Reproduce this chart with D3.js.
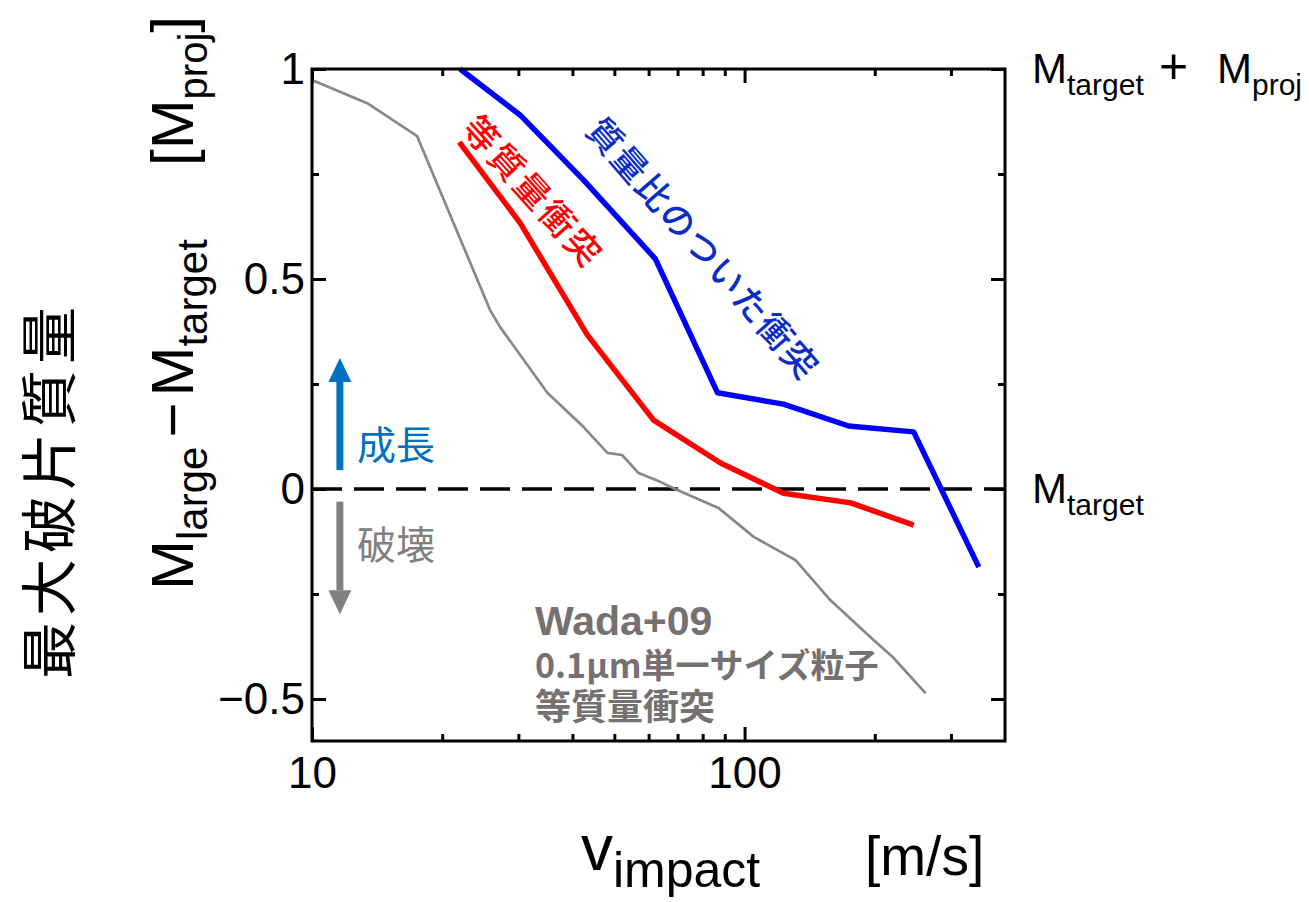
<!DOCTYPE html>
<html>
<head>
<meta charset="utf-8">
<script src="https://cdn.jsdelivr.net/npm/d3@7"></script>
<style>
  body { margin: 0; background: #fff; }
  text { font-family: "Liberation Sans", Arial, sans-serif; }
  .jp { font-family: "Noto Sans CJK JP", sans-serif; }
</style>
</head>
<body>
<div id="plot"></div>
<script>
let width = 1309;
let height = 902;

// plot frame
let plotLeft = 312, plotRight = 1005, plotTop = 69, plotBottom = 741;

// 質量比のついた衝突 (blue)
let ratioV = [22.0, 30.3, 42.4, 62.2, 86.6, 123, 174, 246, 348];
let ratioM = [1.0, 0.89, 0.736, 0.548, 0.229, 0.202, 0.150, 0.136, -0.186];

// 等質量衝突 (red)
let equalV = [21.9, 30.3, 43.3, 61.6, 88, 123, 176, 246];
let equalM = [0.826, 0.633, 0.367, 0.164, 0.062, -0.01, -0.033, -0.086];

// Wada+09 (gray)
let wadaV = [10, 13.5, 17.5, 25.8, 27.2, 35, 42.4, 48.2, 52.1, 56.9, 63.8, 68.5, 87, 105, 131, 158, 199, 220, 262];
let wadaM = [0.974, 0.917, 0.84, 0.426, 0.386, 0.229, 0.148, 0.086, 0.081, 0.038, 0.017, 0.002, -0.045, -0.114, -0.169, -0.265, -0.36, -0.40, -0.486];

let xMajor = [10, 100];
let xMinor = [20, 30, 40, 50, 60, 70, 80, 90, 200, 300];
let yMajor = [-0.5, 0, 0.5, 1];
let yMinor = [-0.25, 0.25, 0.75];
let yTickLabels = {"-0.5": "\u22120.5", "0": "0", "0.5": "0.5", "1": "1"};

let svg = d3.select("#plot")
    .append("svg")
    .attr("width", width)
    .attr("height", height);

let xScale = d3.scaleLog()
    .domain([10, 400])
    .range([plotLeft, plotRight]);

let yScale = d3.scaleLinear()
    .domain([-0.6, 1])
    .range([plotBottom, plotTop]);

// ticks, all pointing inside
function addAxis(axis, transform, showLabels) {
    let g = svg.append("g")
        .attr("transform", transform)
        .call(axis);
    g.select(".domain").remove();
    g.selectAll(".tick line").attr("stroke", "#000").attr("stroke-width", 3);
    if (!showLabels) g.selectAll(".tick text").remove();
    return g;
}

let xb = addAxis(d3.axisBottom(xScale).tickValues(xMajor).tickSize(-14).tickPadding(16).tickFormat(d3.format("d")),
    "translate(0," + plotBottom + ")", true);
xb.selectAll(".tick text").attr("font-size", 44).attr("fill", "#000").attr("font-family", "Liberation Sans");
addAxis(d3.axisBottom(xScale).tickValues(xMinor).tickSize(-7), "translate(0," + plotBottom + ")", false);
addAxis(d3.axisTop(xScale).tickValues(xMajor).tickSize(-14), "translate(0," + plotTop + ")", false);
addAxis(d3.axisTop(xScale).tickValues(xMinor).tickSize(-7), "translate(0," + plotTop + ")", false);

let yl = addAxis(d3.axisLeft(yScale).tickValues(yMajor).tickSize(-14).tickPadding(7)
    .tickFormat(d => yTickLabels[String(d)]), "translate(" + plotLeft + ",0)", true);
yl.selectAll(".tick text").attr("font-size", 44).attr("fill", "#000").attr("font-family", "Liberation Sans");
addAxis(d3.axisLeft(yScale).tickValues(yMinor).tickSize(-7), "translate(" + plotLeft + ",0)", false);
addAxis(d3.axisRight(yScale).tickValues(yMajor).tickSize(-14), "translate(" + plotRight + ",0)", false);
addAxis(d3.axisRight(yScale).tickValues(yMinor).tickSize(-7), "translate(" + plotRight + ",0)", false);

// zero line
svg.append("line")
    .attr("x1", plotLeft).attr("x2", plotRight)
    .attr("y1", yScale(0)).attr("y2", yScale(0))
    .attr("stroke", "#000")
    .attr("stroke-width", 3.5)
    .attr("stroke-dasharray", "30,12");

let line = d3.line()
    .x(d => xScale(d[0]))
    .y(d => yScale(d[1]));

function series(vs, ms, color, w) {
    svg.append("path")
        .datum(vs.map((v, i) => [v, ms[i]]))
        .attr("d", line)
        .attr("fill", "none")
        .attr("stroke", color)
        .attr("stroke-width", w)
        .attr("stroke-linejoin", "round");
}

series(wadaV, wadaM, "#888888", 2.7);
series(equalV, equalM, "#ff0000", 5.5);
series(ratioV, ratioM, "#0000ff", 5.5);

// frame
svg.append("rect")
    .attr("x", plotLeft).attr("y", plotTop)
    .attr("width", plotRight - plotLeft).attr("height", plotBottom - plotTop)
    .attr("fill", "none")
    .attr("stroke", "#000")
    .attr("stroke-width", 3);

// growth / destruction arrows
function arrow(v, m0, m1, color) {
    let x = xScale(v), y0 = yScale(m0), y1 = yScale(m1);
    let dir = y1 < y0 ? 1 : -1;
    let headLen = 24, headW = 11.5;
    svg.append("line")
        .attr("x1", x).attr("x2", x)
        .attr("y1", y0).attr("y2", y1 + dir * headLen)
        .attr("stroke", color).attr("stroke-width", 7);
    svg.append("path")
        .attr("d", "M" + x + "," + y1 + "L" + (x - headW) + "," + (y1 + dir * headLen) +
            "L" + (x + headW) + "," + (y1 + dir * headLen) + "Z")
        .attr("fill", color);
}
arrow(11.6, 0.045, 0.312, "#0070c0");
arrow(11.6, -0.03, -0.298, "#808080");

svg.append("text").attr("class", "jp")
    .attr("x", 357).attr("y", 459)
    .attr("font-size", 39).attr("fill", "#0070c0")
    .text("成長");

svg.append("text").attr("class", "jp")
    .attr("x", 357).attr("y", 559)
    .attr("font-size", 39).attr("fill", "#808080")
    .text("破壊");

// rotated series labels
svg.append("text").attr("class", "jp")
    .attr("transform", "translate(" + xScale(81.1) + "," + yScale(0.576) + ") rotate(49)")
    .attr("text-anchor", "middle")
    .attr("dominant-baseline", "central")
    .attr("font-size", 35)
    .attr("font-weight", 500)
    .attr("letter-spacing", 2)
    .attr("fill", "#0a2dc8")
    .text("質量比のついた衝突");

svg.append("text").attr("class", "jp")
    .attr("transform", "translate(" + xScale(32.8) + "," + yScale(0.712) + ") rotate(48)")
    .attr("text-anchor", "middle")
    .attr("dominant-baseline", "central")
    .attr("font-size", 35)
    .attr("font-weight", 500)
    .attr("letter-spacing", 3)
    .attr("fill", "#ff0000")
    .text("等質量衝突");

// Wada+09 note, one text block with three lines
let note = svg.append("text")
    .attr("font-weight", "bold")
    .attr("fill", "#767171");
note.append("tspan")
    .attr("x", 535).attr("y", 635)
    .attr("font-size", 41)
    .text("Wada+09");
note.append("tspan").attr("class", "jp")
    .attr("x", 535).attr("y", 678)
    .attr("font-size", 34)
    .text("0.1μm単一サイズ粒子");
note.append("tspan").attr("class", "jp")
    .attr("x", 535).attr("y", 720)
    .attr("font-size", 36)
    .text("等質量衝突");

// right-hand labels
let rt = svg.append("text").attr("y", 83).attr("font-size", 42).attr("font-family", "Noto Sans");
rt.append("tspan").attr("x", 1032).text("M");
rt.append("tspan").attr("font-size", 30).attr("dy", 12).text("target");
rt.append("tspan").attr("x", 1159).attr("dy", -12).attr("font-size", 50).attr("font-weight", 300).text("+");
rt.append("tspan").attr("x", 1217).text("M");
rt.append("tspan").attr("font-size", 30).attr("dy", 12).text("proj");

let rb = svg.append("text").attr("x", 1032).attr("y", 503).attr("font-size", 42).attr("font-family", "Noto Sans");
rb.append("tspan").text("M");
rb.append("tspan").attr("font-size", 30).attr("dy", 12).text("target");

// x label
let xl = svg.append("text").attr("x", 581).attr("y", 870).attr("font-size", 64);
xl.append("tspan").text("v");
xl.append("tspan").attr("font-size", 50).attr("dy", 17).text("impact");
svg.append("text").attr("x", 865).attr("y", 875).attr("font-size", 55).text("[m/s]");

// y label
let yt = svg.append("text")
    .attr("transform", "translate(193,590) rotate(-90)")
    .attr("font-size", 60);
yt.append("tspan").text("M");
yt.append("tspan").attr("font-size", 42).attr("dy", 14).text("large");
yt.append("tspan").attr("dy", -14).attr("dx", 9).text("\u2212");
yt.append("tspan").attr("dx", 6).text("M");
yt.append("tspan").attr("font-size", 42).attr("dy", 14).text("target");

let yp = svg.append("text")
    .attr("transform", "translate(193,16) rotate(-90)")
    .attr("text-anchor", "end")
    .attr("font-size", 60);
yp.append("tspan").text("[M");
yp.append("tspan").attr("font-size", 40).attr("dy", 14).text("proj");
yp.append("tspan").attr("dy", -14).text("]");

svg.append("text").attr("class", "jp")
    .attr("transform", "translate(70,490) rotate(-90)")
    .attr("text-anchor", "middle")
    .attr("font-size", 57)
    .attr("letter-spacing", 6)
    .text("最大破片質量");
</script>
</body>
</html>
